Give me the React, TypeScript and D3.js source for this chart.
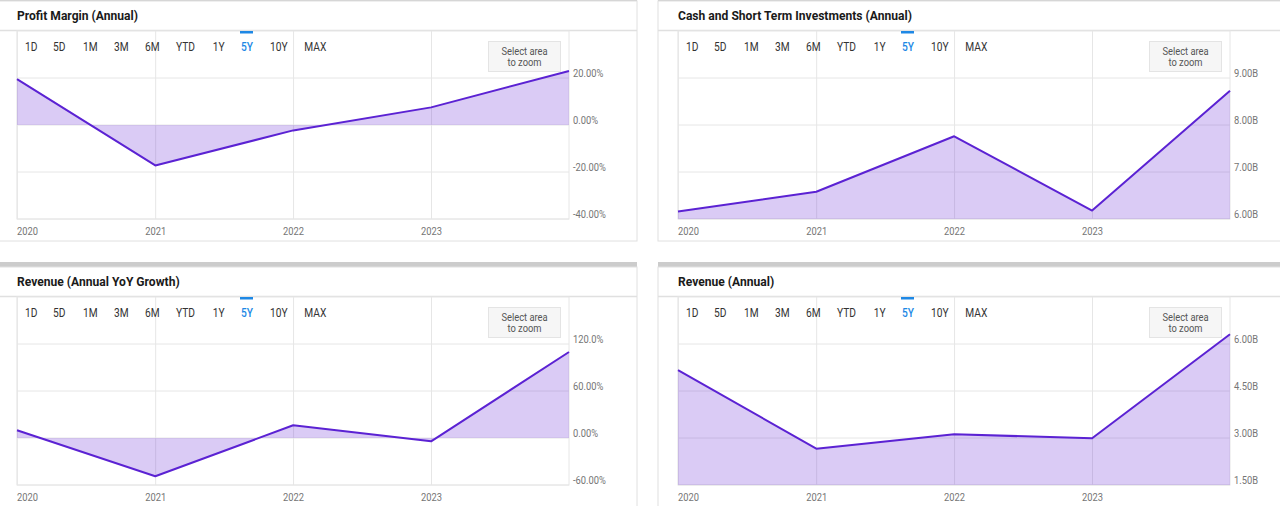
import React from "react";
import * as d3 from "d3";

// ---------- data ----------
const periodEnds = ["2019-12-31", "2020-12-31", "2021-12-31", "2022-12-31", "2023-12-31"];

const profitMargin = [19.5, -17.2, -2.3, 7.5, 23.0];
const cashShortTerm = [6.16, 6.58, 7.76, 6.18, 8.73];
const revenueYoY = [9.8, -48.9, 16.2, -4.2, 109.8];
const revenueAnnual = [5.17, 2.66, 3.12, 2.99, 6.31];

const profitTicks = [-40, -20, 0, 20];
const profitTickLabels = ["-40.00%", "-20.00%", "0.00%", "20.00%"];
const cashTicks = [6, 7, 8, 9];
const cashTickLabels = ["6.00B", "7.00B", "8.00B", "9.00B"];
const yoyTicks = [-60, 0, 60, 120];
const yoyTickLabels = ["-60.00%", "0.00%", "60.00%", "120.0%"];
const revTicks = [1.5, 3, 4.5, 6];
const revTickLabels = ["1.50B", "3.00B", "4.50B", "6.00B"];

const rangeButtons = ["1D", "5D", "1M", "3M", "6M", "YTD", "1Y", "5Y", "10Y", "MAX"];
const activeRange = "5Y";

// ---------- layout / style ----------
const W = 1280;
const H = 506;
const FONT = "Roboto, 'Noto Sans', sans-serif";
const LINE = "#5b22d3";
const FILL = "#6a2fd6";
const GRID = "#e6e6e6";
const BLUE = "#1e88e5";
const btnX = [25, 53, 83, 114, 145, 176, 212.7, 241, 270, 304.3];

const plotL = 17;
const plotR = 569;
const plotT = 31;
const plotB = 219;

type PanelProps = {
  dx: number;
  dy: number;
  title: string;
  values: number[];
  domain: [number, number];
  ticks: number[];
  tickLabels: string[];
};

const CText: React.FC<{
  x: number;
  y: number;
  size: number;
  fill: string;
  weight?: number;
  anchor?: string;
  sx?: number;
  children: React.ReactNode;
}> = ({ x, y, size, fill, weight = 400, anchor = "start", sx = 0.85, children }) => (
  <text
    transform={`translate(${x},${y}) scale(${sx},1)`}
    fontFamily={FONT}
    fontSize={size}
    fontWeight={weight}
    fill={fill}
    textAnchor={anchor as any}
  >
    {children}
  </text>
);

const Panel: React.FC<PanelProps> = ({ dx, dy, title, values, domain, ticks, tickLabels }) => {
  const dates = periodEnds.map((s) => d3.timeParse("%Y-%m-%d")(s) as Date);
  const x = d3.scaleTime().domain([dates[0], dates[dates.length - 1]]).range([plotL, plotR]);
  const y = d3.scaleLinear().domain(domain).range([plotB, plotT]);
  const base = y(Math.max(domain[0], Math.min(domain[1], 0)));
  const pts = dates.map((d, i) => ({ d, v: values[i] }));
  const area = d3
    .area<{ d: Date; v: number }>()
    .x((p) => x(p.d))
    .y0(base)
    .y1((p) => y(p.v));
  const line = d3
    .line<{ d: Date; v: number }>()
    .x((p) => x(p.d))
    .y((p) => y(p.v));
  const yearTicks = x.ticks(d3.timeYear.every(1) as any);

  return (
    <g transform={`translate(${dx},${dy})`}>
      {/* top gray bar */}
      <rect x={-3} y={-4} width={640} height={5} fill="#cccccc" />
      {/* panel border */}
      <rect x={-3} y={1} width={640} height={240} fill="#ffffff" stroke="#e0e0e0" strokeWidth={1} />
      <CText x={17} y={20} size={13} fill="#1a1a1a" weight={700} sx={0.93}>
        {title}
      </CText>
      <line x1={-3} x2={637} y1={30.5} y2={30.5} stroke="#e0e0e0" strokeWidth={1.5} />

      {/* plot */}
      <rect x={plotL} y={plotT} width={plotR - plotL} height={plotB - plotT} fill="#fff" stroke={GRID} />
      {ticks.map((t) => (
        <line key={"h" + t} x1={plotL} x2={plotR} y1={y(t)} y2={y(t)} stroke={GRID} />
      ))}
      {yearTicks.map((t) => (
        <line key={"v" + +t} x1={x(t)} x2={x(t)} y1={plotT} y2={plotB} stroke={GRID} />
      ))}
      <path d={area(pts) || ""} fill={FILL} fillOpacity={0.25} />
      <path d={line(pts) || ""} fill="none" stroke={LINE} strokeWidth={2} strokeLinejoin="round" />

      {/* y labels */}
      {ticks.map((t, i) => (
        <CText key={"yl" + t} x={plotR + 4} y={y(t) - 1.5} size={11} fill="#757575">
          {tickLabels[i]}
        </CText>
      ))}
      {/* x labels */}
      {yearTicks.map((t, i) => {
        const px = x(t);
        const first = px - plotL < 12;
        return (
          <CText
            key={"xl" + +t}
            x={first ? plotL : px}
            y={235}
            size={11}
            fill="#757575"
            anchor={first ? "start" : "middle"}
          >
            {d3.timeFormat("%Y")(t)}
          </CText>
        );
      })}

      {/* range selector */}
      {rangeButtons.map((b, i) => (
        <CText key={b} x={btnX[i]} y={51} size={12} fill={b === activeRange ? BLUE : "#333333"} weight={b === activeRange ? 500 : 400}>
          {b}
        </CText>
      ))}
      <rect x={btnX[rangeButtons.indexOf(activeRange)] - 1} y={31} width={13} height={2.5} fill={BLUE} />

      {/* select area button */}
      <rect x={488.5} y={41.5} width={72} height={30} fill="#f6f6f6" stroke="#e4e4e4" />
      <CText x={524.5} y={54.5} size={11} fill="#555555" anchor="middle">
        Select area
      </CText>
      <CText x={524.5} y={66} size={11} fill="#555555" anchor="middle">
        to zoom
      </CText>
    </g>
  );
};

export default function App() {
  return (
    <svg
      width={W}
      height={H}
      viewBox={`0 0 ${W} ${H}`}
      style={{ position: "absolute", left: 0, top: 0, background: "#fff" }}
    >
      <rect x={0} y={0} width={W} height={H} fill="#ffffff" />
      <Panel dx={0} dy={0} title="Profit Margin (Annual)" values={profitMargin} domain={[-40, 40]} ticks={profitTicks} tickLabels={profitTickLabels} />
      <Panel dx={661} dy={0} title="Cash and Short Term Investments (Annual)" values={cashShortTerm} domain={[6, 10]} ticks={cashTicks} tickLabels={cashTickLabels} />
      <Panel dx={0} dy={266} title="Revenue (Annual YoY Growth)" values={revenueYoY} domain={[-60, 180]} ticks={yoyTicks} tickLabels={yoyTickLabels} />
      <Panel dx={661} dy={266} title="Revenue (Annual)" values={revenueAnnual} domain={[1.5, 7.5]} ticks={revTicks} tickLabels={revTickLabels} />
    </svg>
  );
}
